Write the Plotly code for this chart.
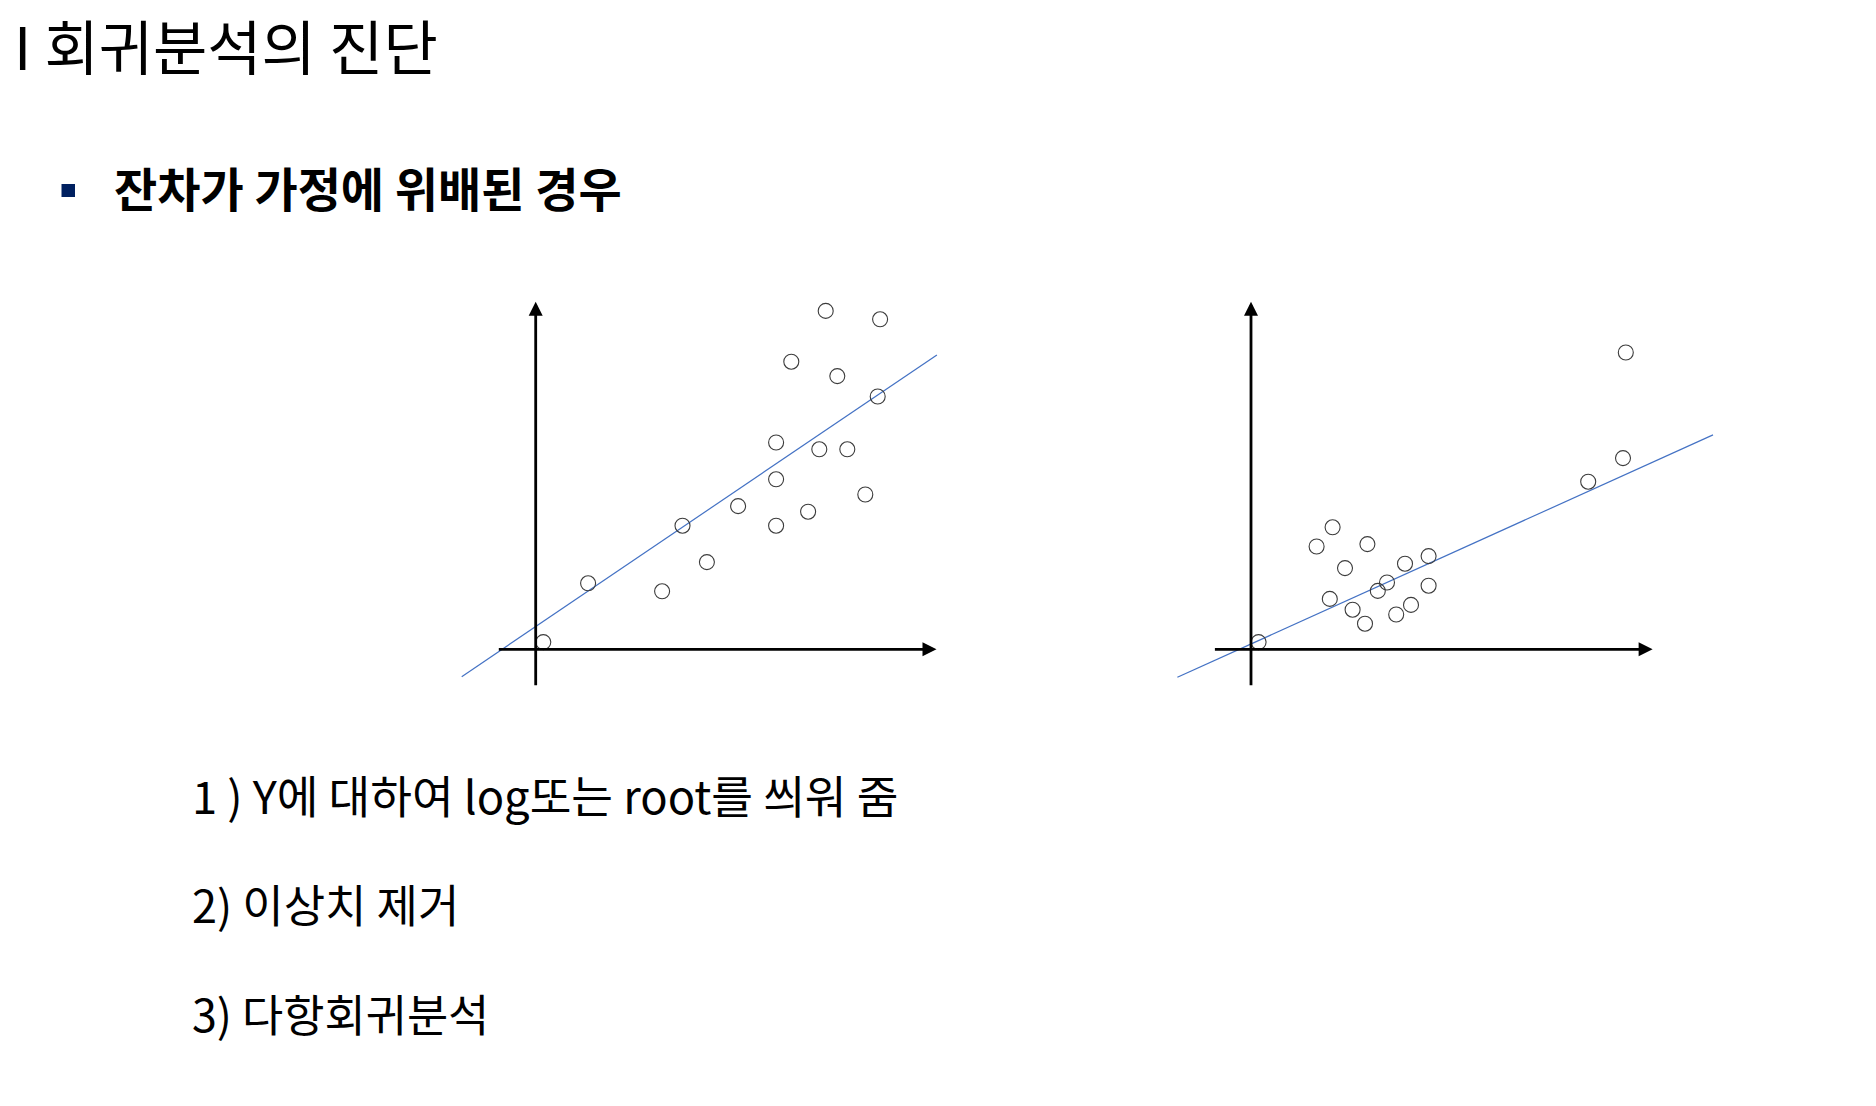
import plotly.graph_objects as go

FONT = "Noto Sans CJK KR"
W, H = 1876, 1106

# ---------------- text content ----------------
title_text = "I 회귀분석의 진단"
bullet_text = "잔차가 가정에 위배된 경우"
remedy_texts = [
    "1 ) Y에 대하여 log또는 root를 씌워 줌",
    "2) 이상치 제거",
    "3) 다항회귀분석",
]

# ---------------- data (arbitrary units, origin at the axis crossing) ----------------
left_x = [7.25, 8.61, 6.39, 7.54, 8.55, 6.01, 7.09, 7.79, 6.01, 8.24, 5.06, 6.81,
          3.67, 6.01, 4.28, 1.31, 3.16, 0.19]
left_y = [8.46, 8.25, 7.19, 6.83, 6.32, 5.17, 5.00, 5.00, 4.25, 3.87, 3.58, 3.44,
          3.09, 3.09, 2.18, 1.65, 1.45, 0.18]
left_line_x = [-1.85, 10.03]
left_line_y = [-0.685, 7.36]

right_x = [9.37, 9.30, 8.43, 2.04, 1.64, 2.91, 2.35, 4.44, 3.85, 3.40, 3.17, 4.44,
           1.97, 2.54, 4.00, 3.63, 2.85, 0.19]
right_y = [7.42, 4.78, 4.19, 3.05, 2.57, 2.63, 2.03, 2.33, 2.14, 1.67, 1.46, 1.59,
           1.26, 0.99, 1.11, 0.87, 0.64, 0.18]
right_line_x = [-1.84, 11.55]
right_line_y = [-0.70, 5.36]

# axis arrows (start, end) per panel
left_xaxis_arrow = [-0.96, 10.02]
left_yaxis_arrow = [-0.935, 8.69]
right_xaxis_arrow = [-0.94, 10.04]
right_yaxis_arrow = [-0.935, 8.69]

# ---------------- layout helpers ----------------
UNIT = 40.0  # pixels per data unit
panels = [
    dict(box=(440, 290, 960, 700), origin=(535.7, 649.3)),
    dict(box=(1150, 290, 1740, 700), origin=(1251.0, 649.3)),
]

fig = go.Figure()

series = [
    (left_x, left_y, left_line_x, left_line_y, left_xaxis_arrow, left_yaxis_arrow),
    (right_x, right_y, right_line_x, right_line_y, right_xaxis_arrow, right_yaxis_arrow),
]

annotations = []
for i, (px_, py_, lx, ly, xa, ya) in enumerate(series):
    suf = "" if i == 0 else str(i + 1)
    xr, yr = "x" + suf, "y" + suf
    fig.add_trace(go.Scatter(
        x=lx, y=ly, mode="lines", xaxis=xr, yaxis=yr,
        line=dict(color="#4472C4", width=1.2), hoverinfo="skip", showlegend=False))
    fig.add_trace(go.Scatter(
        x=px_, y=py_, mode="markers", xaxis=xr, yaxis=yr,
        marker=dict(symbol="circle-open", size=15, color="#3c3c3c",
                    line=dict(width=1.1, color="#3c3c3c")),
        showlegend=False))
    # axis arrows
    annotations.append(dict(
        x=xa[1], y=0, ax=xa[0], ay=0, xref=xr, yref=yr, axref=xr, ayref=yr,
        text="", showarrow=True, arrowhead=2, arrowsize=1, arrowwidth=2.8,
        arrowcolor="black", standoff=0, startstandoff=0))
    annotations.append(dict(
        x=0, y=ya[1], ax=0, ay=ya[0], xref=xr, yref=yr, axref=xr, ayref=yr,
        text="", showarrow=True, arrowhead=2, arrowsize=1, arrowwidth=2.8,
        arrowcolor="black", standoff=0, startstandoff=0))

axis_layout = {}
for i, p in enumerate(panels):
    x0, y0, x1, y1 = p["box"]
    ox, oy = p["origin"]
    suf = "" if i == 0 else str(i + 1)
    axis_layout["xaxis" + suf] = dict(
        domain=[x0 / W, x1 / W], range=[(x0 - ox) / UNIT, (x1 - ox) / UNIT],
        visible=False, fixedrange=True, anchor="y" + suf)
    axis_layout["yaxis" + suf] = dict(
        domain=[1 - y1 / H, 1 - y0 / H], range=[(oy - y1) / UNIT, (oy - y0) / UNIT],
        visible=False, fixedrange=True, anchor="x" + suf)


def paper(px, py):
    return px / W, 1 - py / H


# title (anchored at the top so its text box stays inside the page)
tx, ty = paper(12, 0.5)
annotations.append(dict(text=title_text, x=tx, y=ty, xref="paper", yref="paper",
                        xanchor="left", yanchor="top", showarrow=False,
                        font=dict(family=FONT, size=59, color="black")))
# bullet text
bx, by = paper(112, 187)
annotations.append(dict(text=bullet_text, x=bx, y=by, xref="paper", yref="paper",
                        xanchor="left", yanchor="middle", showarrow=False,
                        font=dict(family=FONT, size=47, color="black", weight="bold")))
# remedies
for txt, yc, fs in zip(remedy_texts, [794, 903, 1012], [45.3, 45, 44.8]):
    rx, ry = paper(190, yc)
    annotations.append(dict(text=txt, x=rx, y=ry, xref="paper", yref="paper",
                            xanchor="left", yanchor="middle", showarrow=False,
                            font=dict(family=FONT, size=fs, color="black")))

shapes = [dict(type="rect", xref="paper", yref="paper",
               x0=61.5 / W, x1=75 / W, y0=1 - 197 / H, y1=1 - 184 / H,
               fillcolor="#002060", line=dict(width=0))]

fig.update_layout(
    width=W, height=H, margin=dict(l=0, r=0, t=0, b=0),
    paper_bgcolor="white", plot_bgcolor="white", showlegend=False,
    annotations=annotations, shapes=shapes, **axis_layout)

fig.write_html("out.html", config={"displayModeBar": False},
               post_script="document.body.style.margin='0';document.body.style.overflow='hidden';")
